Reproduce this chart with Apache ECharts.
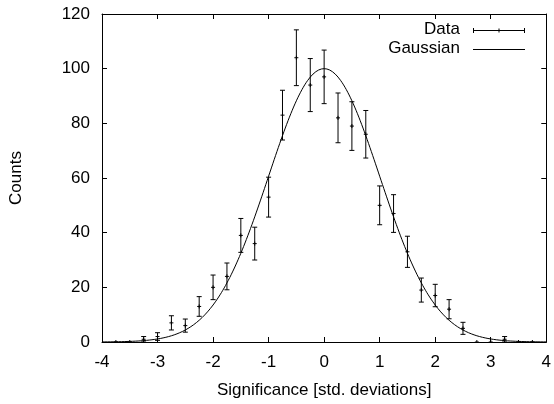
<!DOCTYPE html>
<html>
<head>
<meta charset="utf-8">
<script src="https://cdn.jsdelivr.net/npm/echarts@6/dist/echarts.min.js"></script>
<style>
html,body{margin:0;padding:0;background:#fff;}
#chart{width:554px;height:404px;}
</style>
</head>
<body>
<div id="chart"></div>
<script>
// Bin centres (std. deviations)
const binCenters = [-3.75, -3.5, -3.25, -3, -2.75, -2.5, -2.25, -2, -1.75, -1.5, -1.25, -1, -0.75, -0.5, -0.25, 0,
  0.25, 0.5, 0.75, 1, 1.25, 1.5, 1.75, 2, 2.25, 2.5, 2.75, 3, 3.25, 3.5, 3.75];
// Counts per bin
const counts = [0, 0, 1, 2, 7, 6, 13, 20, 24, 39, 36, 53, 83, 104, 94, 97,
  82, 79, 76, 50, 47, 33, 19, 17, 12, 5, 0, 0, 1, 0, 0];
// Error bar half-lengths
const errors = [0, 0, 1, 1.4, 2.6, 2.4, 3.6, 4.5, 4.9, 6.2, 6.0, 7.3, 9.1, 10.2, 9.7, 9.8,
  9.1, 8.9, 8.7, 7.1, 6.9, 5.7, 4.4, 4.1, 3.5, 2.2, 0, 0, 1, 0, 0];
// Fitted Gaussian parameters
const gaussAmplitude = 100;
const gaussMean = 0;
const gaussSigma = 1;
// Axis ticks
const xTickLabels = ['-4', '-3', '-2', '-1', '0', '1', '2', '3', '4'];
const yTickLabels = ['0', '20', '40', '60', '80', '100', '120'];

const FONT = '"Liberation Sans", Arial, Helvetica, sans-serif';
const FS = 17;

const gaussCurve = [];
for (let i = 0; i <= 320; i++) {
  const x = -4 + i * 0.025;
  gaussCurve.push([x, gaussAmplitude * Math.exp(-Math.pow(x - gaussMean, 2) / (2 * gaussSigma * gaussSigma))]);
}

const dataPoints = binCenters.map((x, i) => [x, counts[i], errors[i]]);

function renderErrorBar(params, api) {
  const x = api.value(0), y = api.value(1), e = api.value(2);
  const p = api.coord([x, y]);
  const style = { stroke: '#000', lineWidth: 1 };
  const children = [];
  const cap = 2.5, mk = 2;
  if (e > 0) {
    const t = api.coord([x, y + e]);
    const b = api.coord([x, y - e]);
    children.push({ type: 'line', shape: { x1: p[0], y1: t[1], x2: p[0], y2: b[1] }, style: style });
    children.push({ type: 'line', shape: { x1: p[0] - cap, y1: t[1], x2: p[0] + cap, y2: t[1] }, style: style });
    children.push({ type: 'line', shape: { x1: p[0] - cap, y1: b[1], x2: p[0] + cap, y2: b[1] }, style: style });
  }
  children.push({ type: 'line', shape: { x1: p[0] - mk, y1: p[1], x2: p[0] + mk, y2: p[1] }, style: style });
  children.push({ type: 'line', shape: { x1: p[0], y1: p[1] - mk, x2: p[0], y2: p[1] + mk }, style: style });
  return { type: 'group', children: children };
}

const chart = echarts.init(document.getElementById('chart'), null, { renderer: 'canvas' });

const axisCommon = {
  type: 'value',
  axisLine: { show: true, onZero: false, lineStyle: { color: '#000', width: 1 } },
  axisTick: { show: true, inside: true, length: 5, lineStyle: { color: '#000', width: 1 } },
  splitLine: { show: false }
};

chart.setOption({
  animation: false,
  backgroundColor: '#fff',
  grid: { left: 96, right: 6, top: 14, bottom: 62, containLabel: false },
  xAxis: [
    Object.assign({}, axisCommon, {
      position: 'bottom', min: -4, max: 4, interval: 1,
      name: 'Significance [std. deviations]', nameLocation: 'middle', nameGap: 40,
      nameTextStyle: { fontFamily: FONT, fontSize: FS, color: '#000' },
      axisLabel: { margin: 12, fontFamily: FONT, fontSize: FS, color: '#000',
        formatter: (v) => xTickLabels[Math.round(v + 4)] }
    }),
    Object.assign({}, axisCommon, {
      position: 'top', min: -4, max: 4, interval: 1, axisLabel: { show: false }
    })
  ],
  yAxis: [
    Object.assign({}, axisCommon, {
      position: 'left', min: 0, max: 120, interval: 20,
      name: 'Counts', nameLocation: 'middle', nameGap: 77, nameRotate: 90,
      nameTextStyle: { fontFamily: FONT, fontSize: FS, color: '#000' },
      axisLabel: { margin: 12, fontFamily: FONT, fontSize: FS, color: '#000',
        formatter: (v) => yTickLabels[Math.round(v / 20)] }
    }),
    Object.assign({}, axisCommon, {
      position: 'right', min: 0, max: 120, interval: 20, axisLabel: { show: false }
    })
  ],
  series: [
    {
      name: 'Data', type: 'custom', xAxisIndex: 0, yAxisIndex: 0,
      renderItem: renderErrorBar, data: dataPoints, encode: { x: 0, y: 1 }, clip: true, z: 3
    },
    {
      name: 'Gaussian', type: 'line', xAxisIndex: 0, yAxisIndex: 0,
      data: gaussCurve, showSymbol: false, symbol: 'none', smooth: false, clip: true,
      lineStyle: { color: '#000', width: 1 }, z: 2
    }
  ],
  graphic: [
    { type: 'text', right: 554 - 460, top: 21, style: { text: 'Data', font: FS + 'px ' + FONT, fill: '#000' } },
    { type: 'text', right: 554 - 460, top: 40, style: { text: 'Gaussian', font: FS + 'px ' + FONT, fill: '#000' } },
    { type: 'group', children: [
      { type: 'line', shape: { x1: 473, y1: 30.5, x2: 525, y2: 30.5 }, style: { stroke: '#000', lineWidth: 1 } },
      { type: 'line', shape: { x1: 473.5, y1: 28, x2: 473.5, y2: 33 }, style: { stroke: '#000', lineWidth: 1 } },
      { type: 'line', shape: { x1: 524.5, y1: 28, x2: 524.5, y2: 33 }, style: { stroke: '#000', lineWidth: 1 } },
      { type: 'line', shape: { x1: 499, y1: 28.5, x2: 499, y2: 32.5 }, style: { stroke: '#000', lineWidth: 1 } },
      { type: 'line', shape: { x1: 473, y1: 49.5, x2: 525, y2: 49.5 }, style: { stroke: '#000', lineWidth: 1 } }
    ] }
  ]
});
</script>
</body>
</html>
